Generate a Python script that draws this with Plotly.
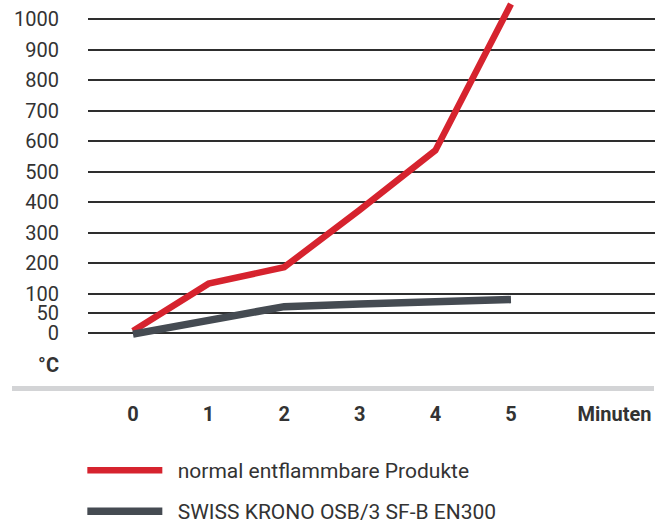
import plotly.graph_objects as go

# Minutes since ignition
minutes = [0, 1, 2, 3, 4, 5]

# Surface temperature in °C
normal_products = [5, 133, 187, 375, 570, 1050]
swiss_krono = [-3, 32, 67, 74, 79, 85]

series_names = ["normal entflammbare Produkte", "SWISS KRONO OSB/3 SF-B EN300"]
series_colors = ["#d6232e", "#454b52"]

y_tick_values = [0, 50, 100, 200, 300, 400, 500, 600, 700, 800, 900, 1000]
y_tick_labels = [str(v) for v in y_tick_values]
x_unit_label = "Minuten"
y_unit_label = "°C"

# The temperature scale is stretched below 100 °C: 0–100 takes 1.29x the
# room of every later 100 °C step.
LOW_STRETCH = 1.289


def temp_scale(v):
    if v <= 100:
        return v * LOW_STRETCH
    return 100 * LOW_STRETCH + (v - 100)


FONT = "Roboto, 'DejaVu Sans', sans-serif"
TEXT = "#333333"
LEGEND_PAD = "\u00a0\u00a0"
PLOT_H = 395  # plot area height in px; paper y = (PLOT_H - px) / PLOT_H

fig = go.Figure()
for name, values, color, width, legend_id in zip(
    series_names,
    [normal_products, swiss_krono],
    series_colors,
    [6.5, 7.5],
    ["legend", "legend2"],
):
    fig.add_trace(
        go.Scatter(
            x=minutes,
            y=[temp_scale(v) for v in values],
            mode="lines",
            name=LEGEND_PAD + name,
            legend=legend_id,
            line=dict(color=color, width=width),
            hoverinfo="skip",
        )
    )

px_per_unit = 0.3049
y_bottom = -(PLOT_H - 333) / px_per_unit
y_top = 333 / px_per_unit


def legend_at(center_px):
    return dict(
        x=-0.01,
        y=(PLOT_H - center_px) / PLOT_H,
        xanchor="left",
        yanchor="middle",
        orientation="v",
        itemwidth=75,
        font=dict(family=FONT, size=21, color=TEXT),
        bgcolor="rgba(0,0,0,0)",
        itemclick=False,
        itemdoubleclick=False,
    )


fig.update_layout(
    width=668,
    height=521,
    margin=dict(l=88, r=13, t=0, b=126, autoexpand=False),
    paper_bgcolor="white",
    plot_bgcolor="white",
    font=dict(family=FONT, color=TEXT, size=20),
    showlegend=True,
    legend=legend_at(470.5),
    legend2=legend_at(511.5),
    xaxis=dict(
        range=[-0.595, 6.905],
        tickvals=minutes + [6.37],
        ticktext=[f"<b>{m}</b>" for m in minutes] + [f"<b>{x_unit_label}</b>"],
        showgrid=False,
        zeroline=False,
        showline=False,
        ticks="",
        ticklabelstandoff=5,
        tickfont=dict(family=FONT, size=20, color=TEXT),
        fixedrange=True,
        automargin=False,
    ),
    yaxis=dict(
        range=[y_bottom, y_top],
        tickvals=[temp_scale(v) for v in y_tick_values],
        ticktext=y_tick_labels,
        showgrid=True,
        gridcolor="#2e2e2e",
        gridwidth=1.5,
        zeroline=False,
        showline=False,
        ticks="",
        ticklabelstandoff=28,
        tickfont=dict(family=FONT, size=20, color=TEXT),
        fixedrange=True,
        automargin=False,
    ),
    yaxis2=dict(
        overlaying="y",
        matches="y",
        side="left",
        tickvals=[-105],
        ticktext=[f"<b>{y_unit_label}</b>"],
        showgrid=False,
        zeroline=False,
        showline=False,
        ticks="",
        ticklabelstandoff=28,
        tickfont=dict(family=FONT, size=20, color=TEXT),
        fixedrange=True,
        automargin=False,
    ),
    shapes=[
        dict(
            type="line",
            xref="paper",
            yref="paper",
            x0=(12 - 88) / 567,
            x1=(654 - 88) / 567,
            y0=(PLOT_H - 388.5) / PLOT_H,
            y1=(PLOT_H - 388.5) / PLOT_H,
            line=dict(color="#d3d4d6", width=5),
            layer="below",
        )
    ],
)

# An invisible trace to bring the °C tick axis into the layout
fig.add_trace(
    go.Scatter(x=[None], y=[None], yaxis="y2", showlegend=False, hoverinfo="skip")
)

fig.write_html("out.html")
